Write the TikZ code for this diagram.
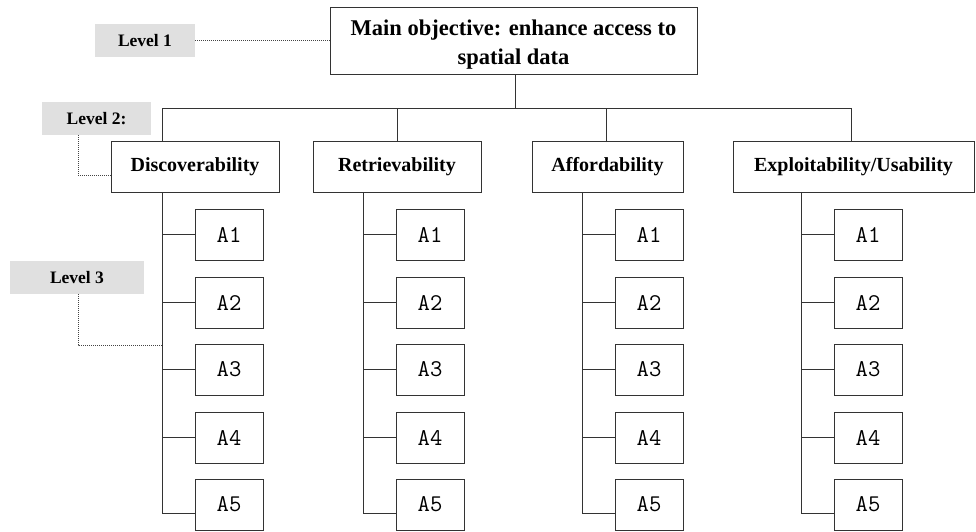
\documentclass[tikz,border=0pt]{standalone}
\usepackage{fontspec}
\setmainfont{Liberation Serif}
\definecolor{linec}{HTML}{333333}
\definecolor{labelfill}{HTML}{E0E0E0}
\definecolor{dotc}{HTML}{444444}
\begin{document}
\begin{tikzpicture}[x=1pt,y=-1pt,
  every node/.style={inner sep=0pt,outer sep=0pt},
  mainbox/.style={draw=linec,line width=0.9pt,fill=white,align=center,
    font=\fontsize{22.5}{29}\selectfont\bfseries},
  catbox/.style={draw=linec,line width=0.9pt,fill=white,minimum height=51pt,
    font=\fontsize{20}{24}\selectfont\bfseries},
  subbox/.style={draw=linec,line width=0.9pt,fill=white,minimum width=68pt,minimum height=51pt,
    font=\fontsize{24}{28}\selectfont\ttfamily},
  lvlbox/.style={fill=labelfill,minimum height=33pt,
    font=\fontsize{17.5}{20}\selectfont\bfseries},
  conn/.style={draw=linec,line width=0.9pt},
  dotconn/.style={draw=dotc,line width=1pt,dash pattern=on 1pt off 1pt}]
\useasboundingbox (0,0) rectangle (976,531);

% main objective
\node[mainbox,minimum width=367pt,minimum height=67pt] (main) at (513.5,40.5)
  {\rule{0pt}{23pt}Main objective: enhance access to\\spatial data};

% level labels
\node[lvlbox,minimum width=100pt] (L1) at (145,40.5) {Level 1};
\node[lvlbox,minimum width=109pt] (L2) at (96.5,118.5) {Level 2:};
\node[lvlbox,minimum width=134pt] (L3) at (77,277.5) {Level 3};

% categories
\node[catbox,minimum width=168pt] (D) at (195,166.5) {Discoverability};
\node[catbox,minimum width=168pt] (R) at (397,166.5) {Retrievability};
\node[catbox,minimum width=151pt] (F) at (607.5,166.5) {Affordability};
\node[catbox,minimum width=241pt] (E) at (853.5,166.5) {Exploitability/Usability};

% bus
\coordinate (bus) at (515,108);
\coordinate (busL) at (162,108);
\coordinate (busR) at (851,108);
\draw[conn] (main.south -| bus) -- (bus);
\draw[conn] (busL |- D.north) -- (busL) -- (busR) -- (busR |- E.north);
\draw[conn] (R.north) -- (R.north |- bus);
\draw[conn] (606,142) -- (606,108);

% children
\foreach \P/\t/\n in {D/162/d, R/363/r, F/582/f, E/801/e}{
  \foreach \i/\y in {1/234.5, 2/302.5, 3/369.5, 4/437.5, 5/504.5}{
    \node[subbox] (\n\i) at (\t+67,\y) {A\i};
  }
  \coordinate (\n top) at (\t,192);
  \coordinate (\n bot) at (\t,513);
  \draw[conn] (\n top) -- (\n bot) -- (\n bot -| \n5.west);
  \foreach \i in {1,2,3,4}{
    \draw[conn] (\n top |- \n\i.west) -- (\n\i.west);
  }
}

% dotted level connectors
\draw[dotconn] (L1.east) -- (main.west);
\coordinate (l2c) at (78,175);
\draw[dotconn] (L2.south -| l2c) -- (l2c) -- (l2c -| D.west);
\coordinate (l3c) at (78,345);
\draw[dotconn] (L3.south -| l3c) -- (l3c) -- (l3c -| dtop);
\end{tikzpicture}
\end{document}
